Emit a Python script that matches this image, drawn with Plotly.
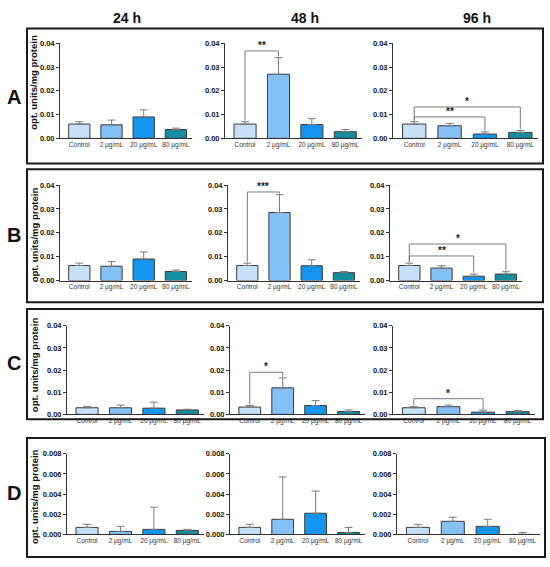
import plotly.graph_objects as go

# categories and colours
doses = ["Control", "2 µg/mL", "20 µg/mL", "80 µg/mL"]
times = ["24 h", "48 h", "96 h"]
rows = ["A", "B", "C", "D"]
bar_colors = ["#C6E0F7", "#84C1F6", "#1496EE", "#168CA0"]

# means per row, one list per time point (24 h, 48 h, 96 h)
means_A = [[0.0060, 0.0057, 0.0090, 0.0037],
           [0.0060, 0.0270, 0.0058, 0.0028],
           [0.0060, 0.0053, 0.0018, 0.0025]]
means_B = [[0.0063, 0.0060, 0.0090, 0.0038],
           [0.0063, 0.0285, 0.0062, 0.0033],
           [0.0063, 0.0052, 0.0018, 0.0027]]
means_C = [[0.0030, 0.0030, 0.0028, 0.0020],
           [0.0033, 0.0120, 0.0040, 0.0013],
           [0.0030, 0.0035, 0.0010, 0.0012]]
means_D = [[0.0007, 0.0003, 0.0005, 0.0004],
           [0.0007, 0.0015, 0.0021, 0.0002],
           [0.0007, 0.0013, 0.0008, 0.0000]]

# upper error (SD)
err_A = [[0.0010, 0.0020, 0.0030, 0.0006],
         [0.0010, 0.0070, 0.0025, 0.0009],
         [0.0010, 0.0010, 0.0009, 0.0008]]
err_B = [[0.0010, 0.0020, 0.0030, 0.0006],
         [0.0010, 0.0075, 0.0025, 0.0005],
         [0.0010, 0.0010, 0.0009, 0.0010]]
err_C = [[0.0006, 0.0012, 0.0027, 0.0003],
         [0.0007, 0.0045, 0.0022, 0.0007],
         [0.0006, 0.0007, 0.0009, 0.0005]]
err_D = [[0.0003, 0.0005, 0.0022, 0.0001],
         [0.0003, 0.0042, 0.0022, 0.0005],
         [0.0003, 0.0004, 0.0007, 0.0002]]

all_means = [means_A, means_B, means_C, means_D]
all_errs = [err_A, err_B, err_C, err_D]
y_max = [0.04, 0.04, 0.04, 0.008]
y_step = [0.01, 0.01, 0.01, 0.002]
y_fmt = [".2f", ".2f", ".2f", ".3f"]

# significance: (row, time, from bar, to bar, bracket level, label)
sig_pairs = [
    (0, 1, 0, 1, 0.0368, "**"),
    (0, 2, 0, 2, 0.0090, "**"),
    (0, 2, 0, 3, 0.0132, "*"),
    (1, 1, 0, 1, 0.0371, "***"),
    (1, 2, 0, 2, 0.0103, "**"),
    (1, 2, 0, 3, 0.0153, "*"),
    (2, 1, 0, 1, 0.0190, "*"),
    (2, 2, 0, 2, 0.0071, "*"),
]

W, H = 550, 567
FONT = "Arial, Liberation Sans, sans-serif"

def px_x(v):
    return v / W

def px_y(v):
    return 1 - v / H

# pixel layout of each row / column
row_ypx = [(40, 136.5), (184, 281), (327, 417), (457, 539)]
col_xpx = [
    [(60, 192), (225, 362), (393, 538)],
    [(60, 192), (228, 360), (390, 522)],
    [(67, 204), (230, 365), (393, 535)],
    [(67, 204), (230, 365), (397, 540)],
]
frames_px = [(27, 25, 543, 162), (27, 168, 543, 303), (27, 310, 543, 422), (27, 441, 545, 562)]
letter_ypx = [95, 235, 365, 497]
ytitle_ypx = [80, 235, 367, 501]
title_xpx = [127, 305, 477]

fig = go.Figure()
layout = dict(
    width=W, height=H,
    margin=dict(l=0, r=0, t=0, b=0),
    paper_bgcolor="white", plot_bgcolor="white",
    showlegend=False,
    font=dict(family=FONT, color="#222"),
)
shapes = []
annotations = []

n = 0
for r in range(4):
    for c in range(3):
        n += 1
        xa = "x" if n == 1 else f"x{n}"
        ya = "y" if n == 1 else f"y{n}"
        means = all_means[r][c]
        errs = all_errs[r][c]
        fig.add_trace(go.Bar(
            x=list(range(4)), y=means,
            marker=dict(color=bar_colors, line=dict(color="#3a3a3a", width=1)),
            error_y=dict(type="data", array=errs, arrayminus=[0] * 4, symmetric=False,
                         color="#7a7a7a", thickness=1, width=4),
            xaxis=xa, yaxis=ya, width=0.66,
        ))
        x0, x1 = col_xpx[r][c]
        yt, yb = row_ypx[r]
        layout["xaxis" if n == 1 else f"xaxis{n}"] = dict(
            domain=[px_x(x0), px_x(x1)], anchor=ya,
            range=[-0.6, 3.5], tickmode="array", tickvals=list(range(4)), ticktext=doses,
            showline=True, linecolor="#333", linewidth=1, ticks="",
            tickfont=dict(size=6.5, color="#333"), showgrid=False, zeroline=False,
        )
        layout["yaxis" if n == 1 else f"yaxis{n}"] = dict(
            domain=[px_y(yb), px_y(yt)], anchor=xa,
            range=[0, y_max[r]], dtick=y_step[r], tickformat=y_fmt[r],
            showline=True, linecolor="#333", linewidth=1,
            ticks="outside", ticklen=3, tickcolor="#333",
            tickfont=dict(size=7.5, color="#111", weight="bold"),
            showgrid=False, zeroline=False,
        )

# significance brackets
for r, c, i, j, level, label in sig_pairs:
    n = r * 3 + c + 1
    xr = "x" if n == 1 else f"x{n}"
    yr = "y" if n == 1 else f"y{n}"
    gap = y_max[r] * 0.012
    yi = all_means[r][c][i] + all_errs[r][c][i] + gap
    yj = all_means[r][c][j] + all_errs[r][c][j] + gap
    shapes.append(dict(
        type="path", xref=xr, yref=yr,
        path=f"M {i},{yi} L {i},{level} L {j},{level} L {j},{yj}",
        line=dict(color="#7a7a7a", width=1),
    ))
    annotations.append(dict(
        x=(i + j) / 2, y=level, xref=xr, yref=yr, text=f"<b>{label}</b>",
        showarrow=False, xanchor="center", yanchor="bottom", yshift=-2,
        font=dict(size=10, color="#222"),
    ))

# panel frames
for x0, y0, x1, y1 in frames_px:
    shapes.append(dict(
        type="rect", xref="paper", yref="paper",
        x0=px_x(x0), x1=px_x(x1), y0=px_y(y1), y1=px_y(y0),
        line=dict(color="#1a1a1a", width=2), fillcolor="rgba(0,0,0,0)",
    ))

# row letters and y titles
for r in range(4):
    annotations.append(dict(
        x=px_x(14), y=px_y(letter_ypx[r]), xref="paper", yref="paper",
        xanchor="center", yanchor="middle",
        text=f"<b>{rows[r]}</b>", showarrow=False, font=dict(size=20, color="#111"),
    ))
    annotations.append(dict(
        x=px_x(34), y=px_y(ytitle_ypx[r]), xref="paper", yref="paper",
        xanchor="center", yanchor="middle",
        text="<b>opt. units/mg protein</b>", textangle=-90, showarrow=False,
        font=dict(size=9.5, color="#111"),
    ))

# column titles
for c in range(3):
    annotations.append(dict(
        x=px_x(title_xpx[c]), y=px_y(14), xref="paper", yref="paper",
        xanchor="center", yanchor="middle",
        text=f"<b>{times[c]}</b>", showarrow=False, font=dict(size=14, color="#111"),
    ))

layout["shapes"] = shapes
layout["annotations"] = annotations
fig.update_layout(**layout)

# drop the page's default body margin so the figure fills the window
fig.write_html("out.html", config={"displayModeBar": False},
               post_script="document.body.style.margin='0';")
